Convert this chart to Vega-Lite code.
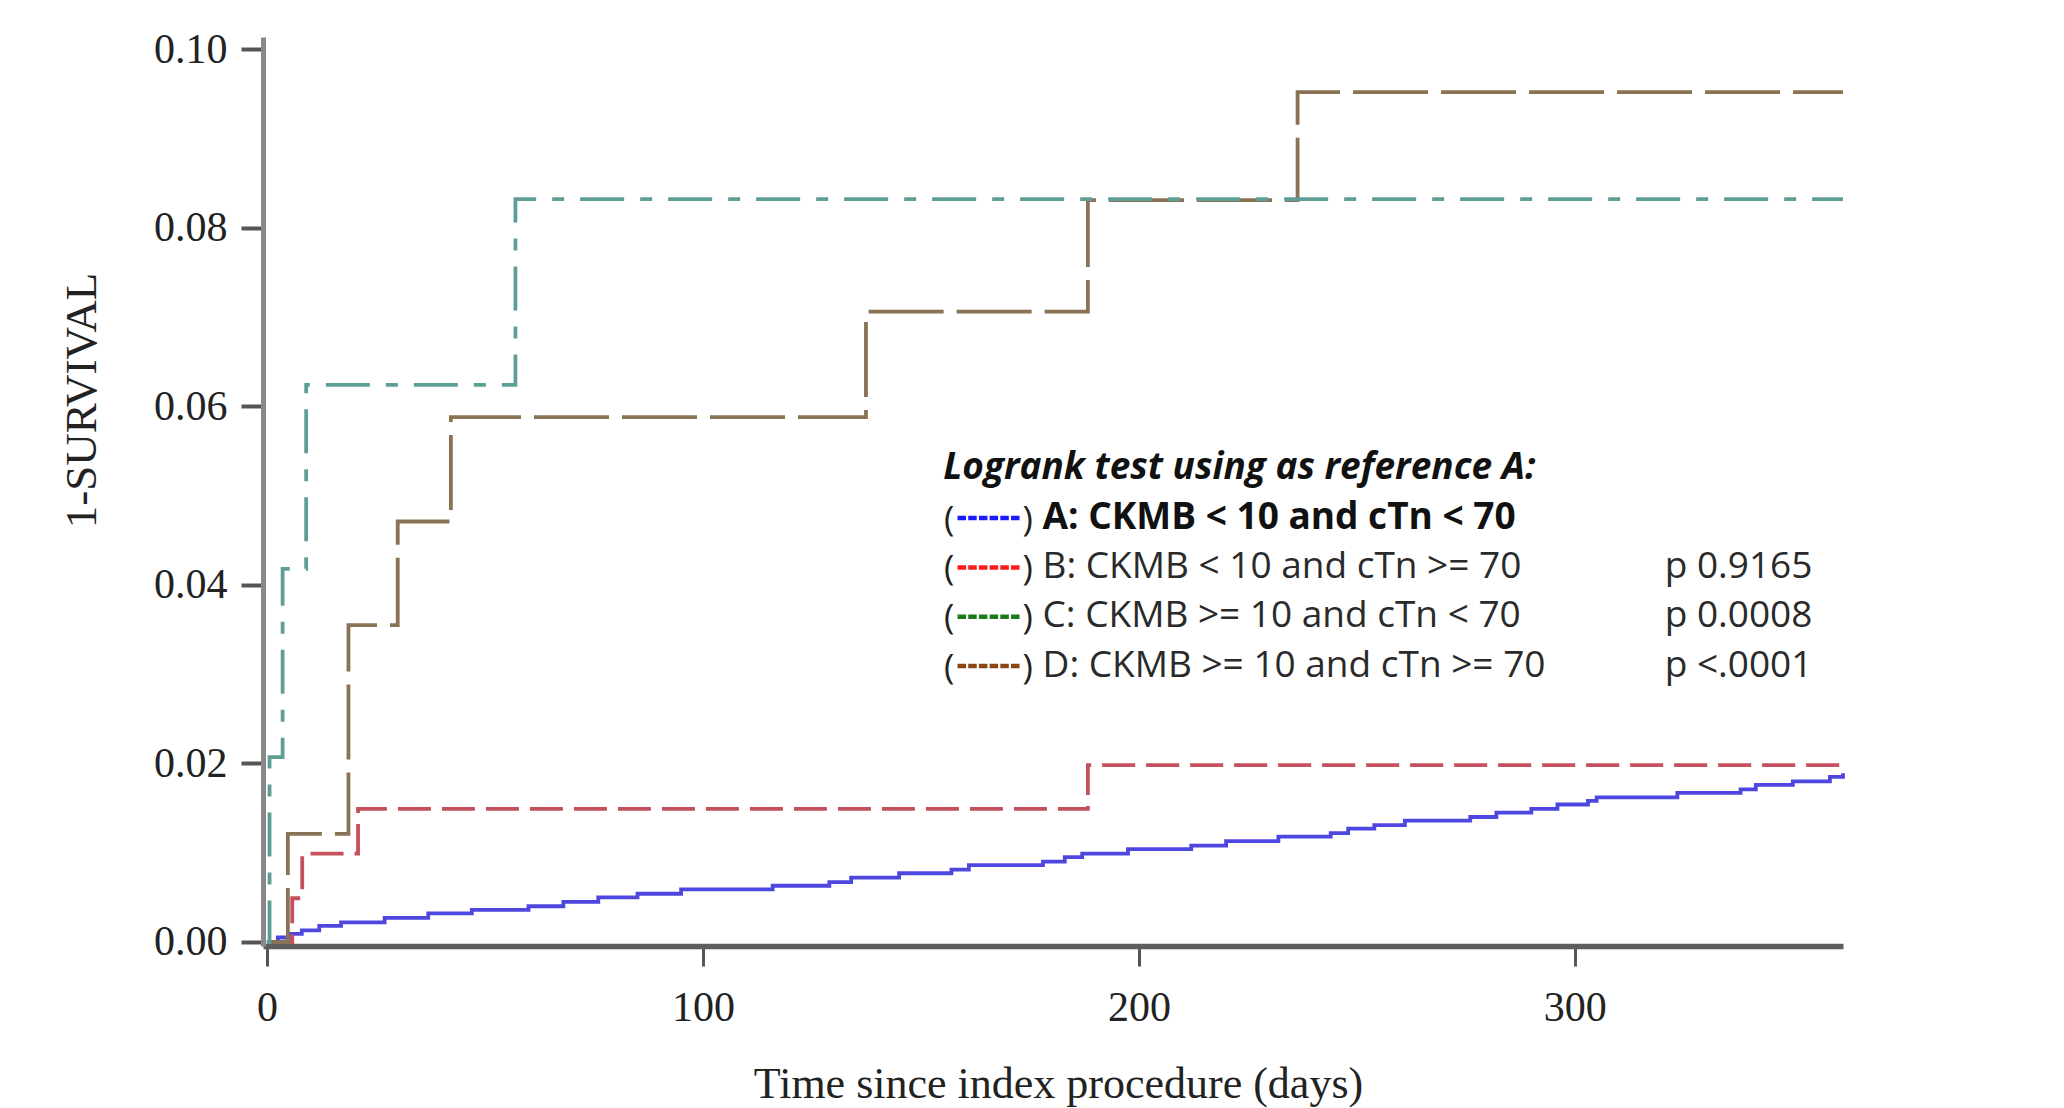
{
  "$schema": "https://vega.github.io/schema/vega-lite/v6.json",
  "width": 1580,
  "height": 909,
  "autosize": "none",
  "padding": {"left": 263, "top": 37, "right": 221, "bottom": 162},
  "background": "white",
  "config": {"view": {"stroke": null}, "axis": {"grid": false}},
  "datasets": {
    "curves": [
      {"group": "A", "day": 0, "risk": 0},
      {"group": "A", "day": 2.5, "risk": 0.0005},
      {"group": "A", "day": 5.5, "risk": 0.0009},
      {"group": "A", "day": 8, "risk": 0.0013},
      {"group": "A", "day": 12, "risk": 0.0018},
      {"group": "A", "day": 17, "risk": 0.0022},
      {"group": "A", "day": 27, "risk": 0.0027},
      {"group": "A", "day": 37, "risk": 0.0032},
      {"group": "A", "day": 47, "risk": 0.0036},
      {"group": "A", "day": 60, "risk": 0.004},
      {"group": "A", "day": 68, "risk": 0.0045},
      {"group": "A", "day": 76, "risk": 0.005},
      {"group": "A", "day": 85, "risk": 0.0054},
      {"group": "A", "day": 95, "risk": 0.0059},
      {"group": "A", "day": 116, "risk": 0.0063},
      {"group": "A", "day": 129, "risk": 0.0067},
      {"group": "A", "day": 134, "risk": 0.0072},
      {"group": "A", "day": 145, "risk": 0.0077},
      {"group": "A", "day": 157, "risk": 0.0081},
      {"group": "A", "day": 161, "risk": 0.0086},
      {"group": "A", "day": 178, "risk": 0.009},
      {"group": "A", "day": 183, "risk": 0.0095},
      {"group": "A", "day": 187, "risk": 0.0099},
      {"group": "A", "day": 197.5, "risk": 0.0104},
      {"group": "A", "day": 212, "risk": 0.0108},
      {"group": "A", "day": 220, "risk": 0.0113},
      {"group": "A", "day": 232, "risk": 0.0118},
      {"group": "A", "day": 244, "risk": 0.0122},
      {"group": "A", "day": 248, "risk": 0.0127},
      {"group": "A", "day": 254, "risk": 0.0131},
      {"group": "A", "day": 261, "risk": 0.0136},
      {"group": "A", "day": 276, "risk": 0.014},
      {"group": "A", "day": 282, "risk": 0.0145},
      {"group": "A", "day": 290, "risk": 0.0149},
      {"group": "A", "day": 296, "risk": 0.0154},
      {"group": "A", "day": 303, "risk": 0.0158},
      {"group": "A", "day": 305, "risk": 0.0162},
      {"group": "A", "day": 323.5, "risk": 0.0167},
      {"group": "A", "day": 338, "risk": 0.0171},
      {"group": "A", "day": 341.5, "risk": 0.0176},
      {"group": "A", "day": 350, "risk": 0.018},
      {"group": "A", "day": 358.5, "risk": 0.0185},
      {"group": "A", "day": 361.5, "risk": 0.0189},
      {"group": "B", "day": 0, "risk": 0},
      {"group": "B", "day": 5.8, "risk": 0.0049},
      {"group": "B", "day": 8.1, "risk": 0.0099},
      {"group": "B", "day": 20.9, "risk": 0.0149},
      {"group": "B", "day": 188.3, "risk": 0.0198},
      {"group": "B", "day": 361.5, "risk": 0.0198},
      {"group": "D", "day": 0, "risk": 0},
      {"group": "D", "day": 4.8, "risk": 0.0121},
      {"group": "D", "day": 18.7, "risk": 0.0355},
      {"group": "D", "day": 30, "risk": 0.0471},
      {"group": "D", "day": 42.2, "risk": 0.0588},
      {"group": "D", "day": 137.4, "risk": 0.0706},
      {"group": "D", "day": 188.3, "risk": 0.0831},
      {"group": "D", "day": 236.4, "risk": 0.0952},
      {"group": "D", "day": 361.5, "risk": 0.0952},
      {"group": "C", "day": 0, "risk": 0},
      {"group": "C", "day": 0.6, "risk": 0.0207},
      {"group": "C", "day": 3.6, "risk": 0.0418},
      {"group": "C", "day": 9.0, "risk": 0.0624},
      {"group": "C", "day": 57, "risk": 0.0832},
      {"group": "C", "day": 361.5, "risk": 0.0832}
    ],
    "legend": [
      {"row": 0, "group": "header", "label": "Logrank test using as reference A:", "p": ""},
      {"row": 1, "group": "A", "label": "A: CKMB < 10 and cTn < 70", "p": ""},
      {"row": 2, "group": "B", "label": "B: CKMB < 10 and cTn >= 70", "p": "p 0.9165"},
      {"row": 3, "group": "C", "label": "C: CKMB >= 10 and cTn < 70", "p": "p 0.0008"},
      {"row": 4, "group": "D", "label": "D: CKMB >= 10 and cTn >= 70", "p": "p <.0001"}
    ]
  },
  "layer": [
    {
      "data": {"name": "curves"},
      "mark": {"type": "line", "interpolate": "step-after", "strokeWidth": 3.8, "strokeCap": "butt"},
      "encoding": {
        "x": {
          "field": "day", "type": "quantitative",
          "scale": {"domain": [-0.9, 361.5], "nice": false, "zero": false},
          "axis": {
            "values": [0, 100, 200, 300], "format": "d",
            "title": "Time since index procedure (days)",
            "domainColor": "#5e5e5e", "domainWidth": 5.5,
            "tickColor": "#555", "tickWidth": 3, "tickSize": 20,
            "labelFont": "Liberation Serif", "labelFontSize": 42, "labelColor": "#222",
            "labelBaseline": "alphabetic", "labelPadding": 54, "labelFlush": false,
            "titleFont": "Liberation Serif", "titleFontSize": 44, "titleFontWeight": "normal", "titleColor": "#222",
            "titleX": 795, "titleY": 151, "titleBaseline": "alphabetic", "titleAlign": "center"
          }
        },
        "y": {
          "field": "risk", "type": "quantitative",
          "scale": {"domain": [-0.00045, 0.10137], "nice": false, "zero": false},
          "axis": {
            "values": [0, 0.02, 0.04, 0.06, 0.08, 0.1], "format": ".2f",
            "title": "1-SURVIVAL",
            "domainColor": "#888", "domainWidth": 5,
            "tickColor": "#555", "tickWidth": 4, "tickSize": 22,
            "labelFont": "Liberation Serif", "labelFontSize": 42, "labelColor": "#222",
            "labelPadding": 14, "labelFlush": false,
            "titleFont": "Liberation Serif", "titleFontSize": 45, "titleFontWeight": "normal", "titleColor": "#222",
            "titleX": -168, "titleY": 363, "titleBaseline": "alphabetic", "titleAlign": "center", "titleAngle": -90
          }
        },
        "color": {
          "field": "group", "type": "nominal",
          "scale": {"domain": ["A", "B", "C", "D"], "range": ["#4d46df", "#c5505e", "#5f9e97", "#8a7255"]},
          "legend": null
        },
        "strokeDash": {
          "field": "group", "type": "nominal",
          "scale": {"domain": ["A", "B", "C", "D"], "range": [[1, 0], [33, 11], [44, 16, 12, 16], [75, 13]]},
          "legend": null
        }
      }
    },
    {
      "data": {"name": "legend"},
      "encoding": {
        "y": {"field": "row", "type": "quantitative", "scale": {"domain": [0, 4], "range": [442.3, 639.5]}, "axis": null}
      },
      "layer": [
        {
          "transform": [{"filter": "datum.row == 0"}],
          "mark": {"type": "text", "font": "Open Sans", "fontSize": 37, "fontWeight": "bold", "fontStyle": "italic", "align": "left", "baseline": "alphabetic", "color": "#111"},
          "encoding": {"x": {"datum": 155.1, "type": "quantitative"}, "text": {"field": "label"}}
        },
        {
          "transform": [{"filter": "datum.row == 1"}],
          "mark": {"type": "text", "font": "Open Sans", "fontSize": 37, "fontWeight": "bold", "align": "left", "baseline": "alphabetic", "color": "#111"},
          "encoding": {"x": {"datum": 177.9, "type": "quantitative"}, "text": {"field": "label"}}
        },
        {
          "transform": [{"filter": "datum.row >= 2"}],
          "mark": {"type": "text", "font": "Open Sans", "fontSize": 37, "align": "left", "baseline": "alphabetic", "color": "#2a2a2a"},
          "encoding": {"x": {"datum": 177.9, "type": "quantitative"}, "text": {"field": "label"}}
        },
        {
          "transform": [{"filter": "datum.row >= 2"}],
          "mark": {"type": "text", "font": "Open Sans", "fontSize": 37, "align": "left", "baseline": "alphabetic", "color": "#2a2a2a"},
          "encoding": {"x": {"datum": 320.6, "type": "quantitative"}, "text": {"field": "p"}}
        },
        {
          "transform": [{"filter": "datum.row >= 1"}],
          "mark": {"type": "text", "font": "Open Sans", "fontSize": 35, "align": "left", "baseline": "alphabetic", "color": "#222", "yOffset": 2},
          "encoding": {"x": {"datum": 155.3, "type": "quantitative"}, "text": {"value": "("}}
        },
        {
          "transform": [{"filter": "datum.row >= 1"}],
          "mark": {"type": "text", "font": "Open Sans", "fontSize": 35, "align": "left", "baseline": "alphabetic", "color": "#222", "yOffset": 2},
          "encoding": {"x": {"datum": 173.3, "type": "quantitative"}, "text": {"value": ")"}}
        },
        {
          "transform": [{"filter": "datum.row >= 1"}],
          "mark": {"type": "rule", "strokeWidth": 4.5, "strokeDash": [8.5, 2.2], "yOffset": -10.5},
          "encoding": {
            "x": {"datum": 158.4, "type": "quantitative"},
            "x2": {"datum": 172.8},
            "stroke": {
              "field": "group", "type": "nominal",
              "scale": {"domain": ["A", "B", "C", "D"], "range": ["#1a1aff", "#ff1a1a", "#1a7a1a", "#8b4513"]},
              "legend": null
            }
          }
        }
      ]
    }
  ],
  "resolve": {"scale": {"y": "independent"}}
}
